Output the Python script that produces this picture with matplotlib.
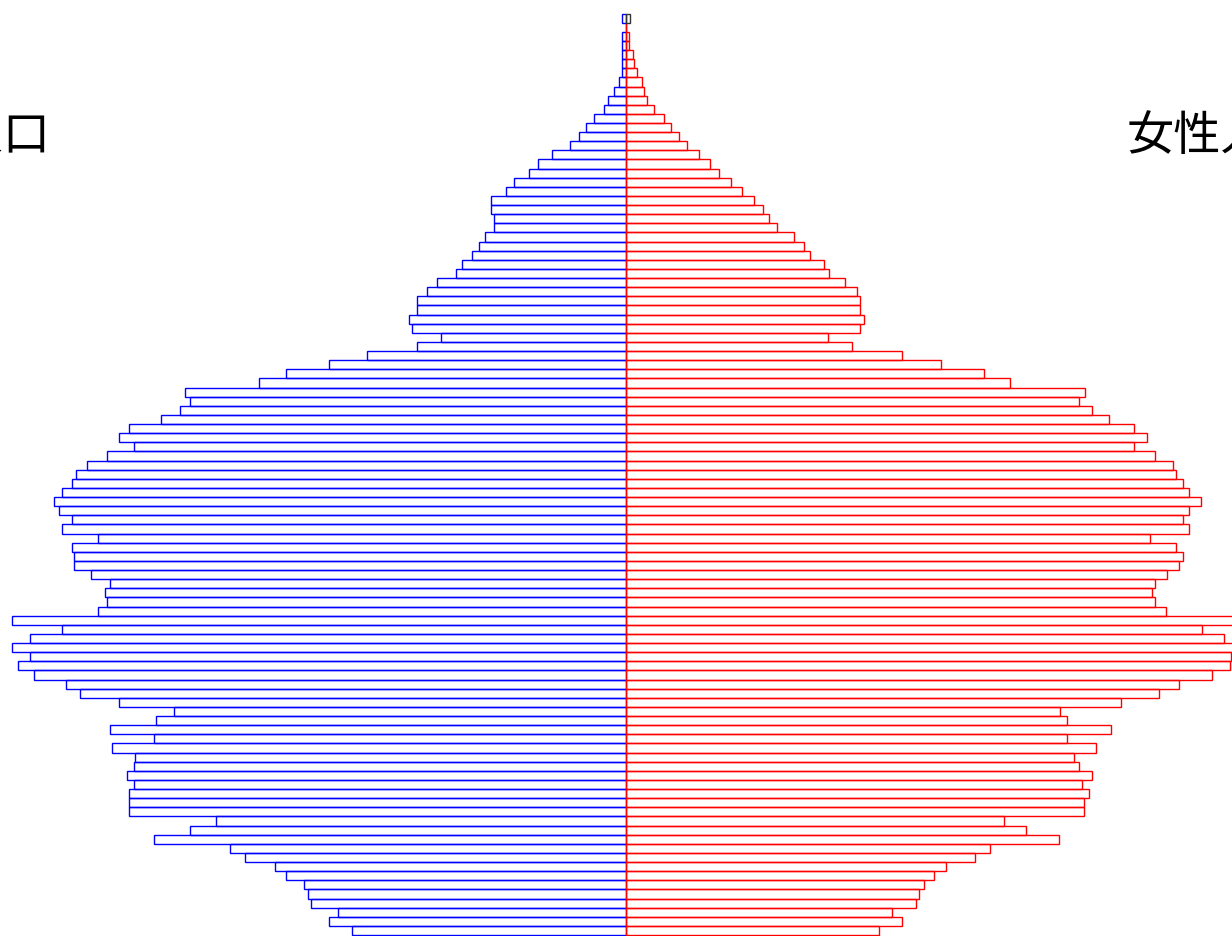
import numpy as np
import matplotlib
matplotlib.use("Agg")
import matplotlib.pyplot as plt

plt.rcParams['font.family'] = ['Noto Sans CJK JP', 'DejaVu Sans']

# age index 0 (bottom) .. 100 (top), population in thousands
ages = np.arange(0, 101)

male = [438, 476, 461, 504, 509, 515, 544, 562, 610, 634,
        755, 698, 656, 795, 795, 795, 788, 799, 788, 786,
        823, 755, 826, 752, 723, 812, 874, 896, 947, 973,
        954, 982, 954, 902, 982, 845, 831, 834, 826, 856,
        883, 883, 887, 845, 902, 887, 907, 916, 902, 887,
        880, 863, 831, 788, 812, 795, 744, 714, 698, 706,
        588, 544, 476, 415, 335, 296, 343, 348, 335, 335,
        318, 302, 272, 263, 247, 236, 226, 212, 212, 216,
        216, 192, 179, 155, 141, 118, 90, 75, 64, 51,
        36, 29, 19, 12, 7, 7, 6, 6, 6, 0,
        6]

female = [404, 441, 426, 464, 469, 476, 493, 512, 558, 582,
          692, 640, 604, 733, 733, 740, 729, 745, 724, 716,
          752, 705, 776, 705, 694, 792, 852, 885, 937, 966,
          968, 982, 956, 921, 979, 864, 846, 841, 846, 866,
          885, 891, 880, 838, 901, 891, 901, 920, 901, 891,
          880, 875, 846, 812, 833, 812, 773, 745, 724, 734,
          614, 573, 504, 441, 361, 323, 374, 380, 374, 374,
          369, 350, 325, 317, 294, 285, 268, 241, 229, 219,
          205, 185, 168, 149, 134, 117, 97, 84, 72, 61,
          44, 33, 28, 26, 17, 12, 11, 4, 4, 0,
          6]

male = np.array(male)
female = np.array(female)

fig = plt.figure(figsize=(12.32, 9.36), dpi=100)
ax = fig.add_axes([0, 0, 1, 1])

ax.barh(ages, -male, height=1, align='edge', facecolor='none',
        edgecolor='#0000ff', linewidth=1.0)
f_edges = ['#ff0000'] * 100 + ['#333333']
ax.barh(ages, female, height=1, align='edge', facecolor='none',
        edgecolor=f_edges, linewidth=1.0)

ax.set_xlim(-1001.6, 969.6)
ax.set_ylim(-0.1, 102.48)
ax.axis('off')

fig.text(51 / 1232, 1 - 137 / 936, '男性人口', ha='right', va='center', fontsize=34)
fig.text(1127 / 1232, 1 - 137 / 936, '女性人口', ha='left', va='center', fontsize=34)

fig.savefig('out.png', dpi=100, facecolor='white')
